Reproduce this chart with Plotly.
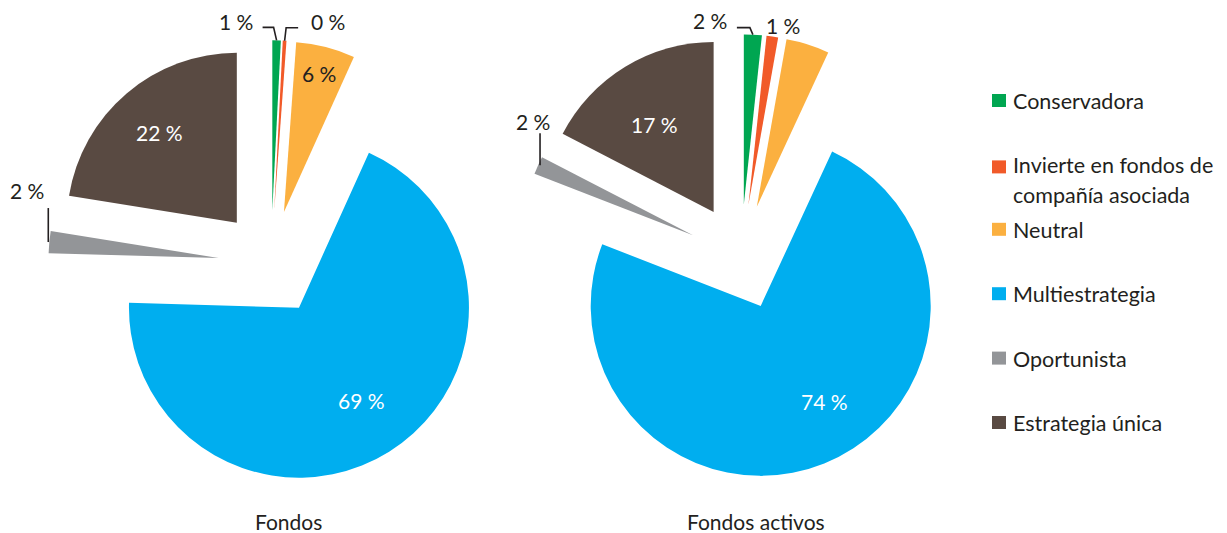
import math
import plotly.graph_objects as go

# ---------------- data ----------------
categories = ["Conservadora", "Invierte en fondos de compañía asociada", "Neutral",
              "Multiestrategia", "Oportunista", "Estrategia única"]
legend_lines = [["Conservadora"], ["Invierte en fondos de", "compañía asociada"], ["Neutral"],
                ["Multiestrategia"], ["Oportunista"], ["Estrategia única"]]
fondos_values = [0.8, 0.35, 5.6, 68.7, 2.1, 22.45]
fondos_labels = ["1 %", "0 %", "6 %", "69 %", "2 %", "22 %"]
activos_values = [1.7, 1.1, 4.1, 74.0, 1.7, 17.4]
activos_labels = ["2 %", "1 %", "", "74 %", "2 %", "17 %"]
pie_titles = ["Fondos", "Fondos activos"]

# ---------------- style ----------------
colors = ["#00A651", "#F15A29", "#FBB040", "#00AEEF", "#939598", "#594A42"]
W, H = 1227, 533
FONT = "Lato"
DARK = "#231F20"
FS = 21
LEG_FS = 21.5
PULL = 0.31
R_PX = 170
centers_px = [(271, 263), (741, 257)]
title_pos_px = [(288, 521), (756, 521)]

# inside labels: (radial fraction of radius from slice apex, angle offset deg, text colour)
inside_style = [
    {2: (0.84, 0, DARK), 3: (0.66, -2, "white"), 5: (0.70, 0, "white")},
    {3: (0.675, -12, "white"), 5: (0.62, -3, "white")},
]
# outside labels: leader path offsets from outer arc midpoint, text offset, anchor
outside_style = [
    {0: ([(0, 0), (-3, -13), (-14, -13)], (-22, -19), "right"),
     1: ([(0, 0), (1.5, -13), (13.5, -13)], (24, -19), "left"),
     4: ([(-1, 0), (-1, -34)], (-22, -52), "center")},
    {0: ([(0, 0), (-3, -7), (-16, -7)], (-24, -14), "right"),
     1: ([], (10.6, -11.5), "center"),
     4: ([(2, 0), (2, -32)], (-5, -44), "center")},
]


def px2paper(x, y):
    return x / W, 1 - y / H


def dirv(theta_deg):
    t = math.radians(theta_deg)
    return math.sin(t), -math.cos(t)


def text_ann(x_px, y_px, text, color=DARK, xanchor="center", size=FS):
    x, y = px2paper(x_px, y_px)
    return dict(x=x, y=y, xref="paper", yref="paper", text=text, showarrow=False,
                xanchor=xanchor, yanchor="middle",
                font=dict(family=FONT, size=size, color=color))


fig = go.Figure()
annotations = []
shapes = []

for k, (vals, labs) in enumerate([(fondos_values, fondos_labels), (activos_values, activos_labels)]):
    cx, cy = centers_px[k]
    S = R_PX * (1 + PULL)
    fig.add_trace(go.Pie(
        values=vals, labels=categories, sort=False, direction="clockwise", rotation=0,
        pull=PULL, textinfo="none", hoverinfo="label+percent", showlegend=False,
        marker=dict(colors=colors, line=dict(width=0)),
        domain=dict(x=[(cx - S) / W, (cx + S) / W], y=[1 - (cy + S) / H, 1 - (cy - S) / H]),
    ))
    total = sum(vals)
    cum = 0
    for i, v in enumerate(vals):
        a0 = cum / total * 360
        cum += v
        a1 = cum / total * 360
        mid = (a0 + a1) / 2
        dx, dy = dirv(mid)
        apx, apy = cx + PULL * R_PX * dx, cy + PULL * R_PX * dy
        ox, oy = cx + (1 + PULL) * R_PX * dx, cy + (1 + PULL) * R_PX * dy
        if i in inside_style[k] and labs[i]:
            f, dth, col = inside_style[k][i]
            ddx, ddy = dirv(mid + dth)
            annotations.append(text_ann(apx + f * R_PX * ddx, apy + f * R_PX * ddy, labs[i], col))
        elif i in outside_style[k] and labs[i]:
            path_off, (tx, ty), anchor = outside_style[k][i]
            if path_off:
                pts = [px2paper(ox + a, oy + b) for a, b in path_off]
                p = "M " + " L ".join(f"{x},{y}" for x, y in pts)
                shapes.append(dict(type="path", path=p, xref="paper", yref="paper",
                                   line=dict(color=DARK, width=1.6)))
            annotations.append(text_ann(ox + tx, oy + ty, labs[i], DARK, anchor))
    annotations.append(text_ann(title_pos_px[k][0], title_pos_px[k][1], pie_titles[k]))

# legend (drawn from categories / colors)
LEG_SQ_X0, LEG_SQ_X1, LEG_TXT_X = 992, 1006, 1011
LEG_Y0, LEG_STEP, LINE_H = 101, 64.4, 30
for i, lines in enumerate(legend_lines):
    yc = LEG_Y0 + i * LEG_STEP
    sq_y = yc + (2 if i == 1 else 0)
    x0, y0 = px2paper(LEG_SQ_X0, sq_y - 7)
    x1, y1 = px2paper(LEG_SQ_X1, sq_y + 6)
    shapes.append(dict(type="rect", xref="paper", yref="paper", x0=x0, x1=x1, y0=y1, y1=y0,
                       fillcolor=colors[i], line=dict(width=0)))
    for j, ln in enumerate(lines):
        annotations.append(text_ann(LEG_TXT_X, yc + j * LINE_H, ln, DARK, "left", LEG_FS))

fig.update_layout(
    width=W, height=H, autosize=False,
    margin=dict(l=0, r=0, t=0, b=0),
    paper_bgcolor="white", plot_bgcolor="white",
    annotations=annotations, shapes=shapes,
    font=dict(family=FONT, color=DARK),
)
fig.write_html("out.html", config={"displayModeBar": False},
               post_script="document.body.style.margin='0';")
